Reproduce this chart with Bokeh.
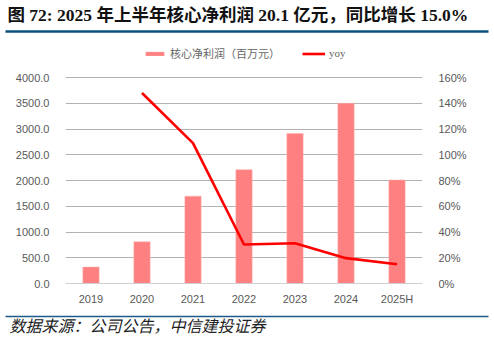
from bokeh.plotting import figure
from bokeh.models import (Range1d, LinearAxis, NumeralTickFormatter, FixedTicker,
                          Legend, LegendItem, FactorRange)
from bokeh.core.properties import value
from bokeh.embed import file_html
from bokeh.resources import INLINE

# ---- data ----
years = ["2019", "2020", "2021", "2022", "2023", "2024", "2025H"]
core_profit = [320, 810, 1695, 2210, 2915, 3500, 2010]   # 百万元
yoy_years = ["2020", "2021", "2022", "2023", "2024", "2025H"]
yoy = [1.48, 1.09, 0.303, 0.313, 0.197, 0.15]
left_ticks = [0, 500, 1000, 1500, 2000, 2500, 3000, 3500, 4000]
right_ticks = [0, 0.2, 0.4, 0.6, 0.8, 1.0, 1.2, 1.4, 1.6]

title_text = "图 72: 2025 年上半年核心净利润 20.1 亿元，同比增长 15.0%"
source_text = "数据来源：公司公告，中信建投证券"
bar_label = "核心净利润（百万元）"
line_label = "yoy"

W = 494
TOP_H, MAIN_H, BOT_H = 36, 271, 39

SANS = "'Liberation Sans', 'Noto Sans CJK SC'"
SERIF_BOLD = "'Liberation Serif', 'Noto Sans CJK SC'"

def plain(fig):
    fig.axis.visible = False
    fig.grid.visible = False
    fig.outline_line_color = None
    fig.background_fill_alpha = 0
    fig.border_fill_alpha = 0

# ---- header ----
top = figure(width=W, height=TOP_H, x_range=Range1d(0, W), y_range=Range1d(TOP_H, 0),
             output_backend="svg", toolbar_location=None, min_border=0)
plain(top)
top.text(x=[7], y=[14], text=[title_text], text_font=value(SERIF_BOLD),
         text_font_size="17.5px", text_font_style="bold", text_color="#111111",
         text_baseline="middle", text_align="left")
top.segment(x0=[5], y0=[31], x1=[488], y1=[31], line_color="#0b4f7f", line_width=2.5)

# ---- main chart ----
# frame extends above the 4000 gridline so the legend can sit inside it
y_top_left = 4000 * 238 / 206
y_top_right = 1.6 * 238 / 206
p = figure(width=W, height=MAIN_H, x_range=FactorRange(*years), y_range=Range1d(0, y_top_left),
           output_backend="svg", toolbar_location=None,
           min_border_left=65, min_border_right=72, min_border_top=9, min_border_bottom=24)
p.outline_line_color = None
p.background_fill_alpha = 0
p.border_fill_alpha = 0
p.extra_y_ranges = {"pct": Range1d(0, y_top_right)}

bars = p.vbar(x=years, top=core_profit, width=0.32, fill_color="#ff8080",
              line_color="#ffb0b0", line_width=0.5)
line = p.line(x=yoy_years, y=yoy, y_range_name="pct", line_color="#ff0000", line_width=2.6)

p.yaxis.ticker = FixedTicker(ticks=left_ticks)
p.yaxis.formatter = NumeralTickFormatter(format="0.0")
p.ygrid.ticker = FixedTicker(ticks=left_ticks[1:])
p.ygrid.grid_line_color = "#a0a0a0"
p.ygrid.grid_line_width = 0.8
p.xgrid.visible = False

ra = LinearAxis(y_range_name="pct", ticker=FixedTicker(ticks=right_ticks),
                formatter=NumeralTickFormatter(format="0%"))
p.add_layout(ra, "right")

for ax in [p.yaxis[0], ra]:
    ax.axis_line_color = None
    ax.major_tick_line_color = None
    ax.minor_tick_line_color = None
    ax.major_label_standoff = 10
    ax.major_label_text_font = SANS
    ax.major_label_text_font_size = "11px"
    ax.major_label_text_color = "#595959"

xa = p.xaxis[0]
xa.axis_line_color = "#d0d0d0"
xa.axis_line_width = 1
xa.major_tick_line_color = None
xa.minor_tick_line_color = None
xa.major_label_standoff = 3
xa.major_label_text_font = SANS
xa.major_label_text_font_size = "11px"
xa.major_label_text_color = "#595959"

legend = Legend(items=[LegendItem(label=bar_label, renderers=[bars]),
                       LegendItem(label=line_label, renderers=[line])],
                orientation="horizontal", location=(78, 222),
                glyph_width=23, glyph_height=5, label_height=14,
                label_standoff=4, spacing=22, padding=0, margin=0,
                border_line_color=None, background_fill_alpha=0,
                label_text_font="'Liberation Serif', 'Noto Sans CJK SC'",
                label_text_font_size="11px", label_text_color="#666666")
p.add_layout(legend, "center")

# ---- footer ----
# the rule above the source note is the line of an empty axis along the frame top
bot = figure(width=W, height=BOT_H, x_range=Range1d(5, 488), y_range=Range1d(BOT_H, 9),
             output_backend="svg", toolbar_location=None,
             min_border_left=5, min_border_right=6, min_border_top=9, min_border_bottom=0)
plain(bot)
rule = LinearAxis(ticker=FixedTicker(ticks=[]), axis_line_color="#1f5a8a", axis_line_width=1.6,
                  major_tick_line_color=None, minor_tick_line_color=None,
                  major_label_text_alpha=0)
bot.add_layout(rule, "above")
bot.text(x=[9], y=[17], text=[source_text], text_font=value("Noto Sans CJK SC"),
         text_font_size="16px", text_font_style="italic", text_color="#222222",
         text_baseline="middle", text_align="left")

open("out.html", "w").write(file_html([top, p, bot], INLINE))
